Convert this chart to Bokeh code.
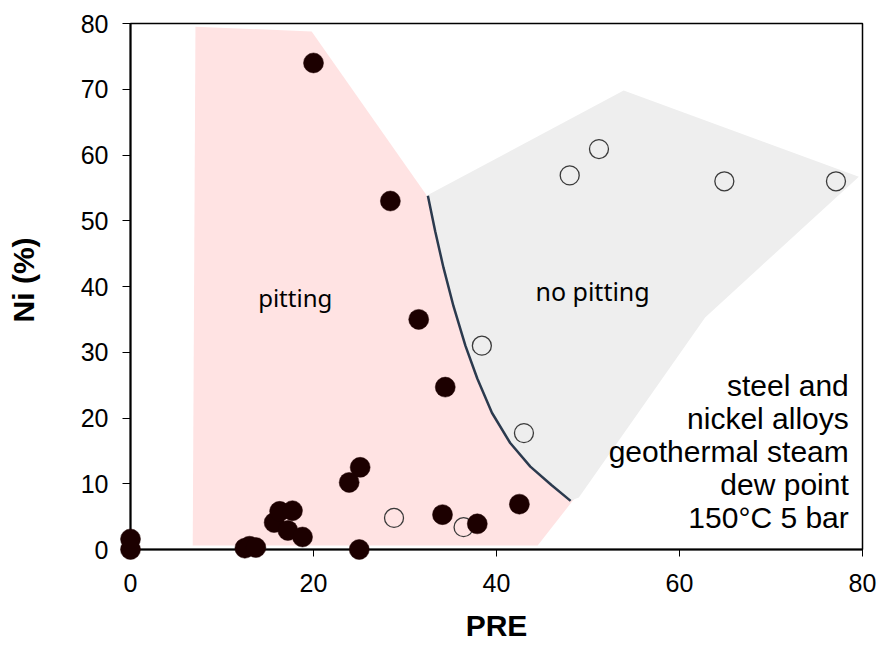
import math
from bokeh.plotting import figure
from bokeh.models import Range1d, FixedTicker
from bokeh.core.properties import value
from bokeh.embed import file_html
from bokeh.resources import INLINE

# ---- data ----
pitting_pre = [0, 0, 12.5, 13.0, 13.7, 15.7, 16.3, 17.2, 17.7, 18.8, 20.0, 23.9, 25.1, 25.0, 28.4, 31.5, 34.4, 34.1, 37.9, 42.5]
pitting_ni = [0.0, 1.6, 0.2, 0.5, 0.3, 4.1, 5.8, 2.9, 5.9, 1.9, 74.0, 10.2, 12.5, 0.0, 53.0, 35.0, 24.7, 5.3, 3.9, 6.9]
nopit_pre = [28.8, 36.4, 38.4, 43.0, 48.0, 51.2, 64.9, 77.1]
nopit_ni = [4.8, 3.4, 31.0, 17.7, 56.9, 60.9, 56.0, 56.0]

# boundary curve between regions
curve_pre = [32.5, 33.3, 34.2, 35.3, 36.6, 37.9, 39.5, 41.5, 43.7, 46.0, 48.1]
curve_ni = [53.8, 48.4, 42.9, 37.0, 31.0, 26.0, 20.8, 16.2, 12.6, 9.8, 7.4]

# shaded regions
pink_pre = [7.1, 19.8, 32.3, 48.6, 44.5, 6.8]
pink_ni = [79.5, 78.8, 54.0, 7.9, 0.6, 0.6]
gray_outer_pre = [32.6, 53.9, 79.6, 62.8, 49.0]
gray_outer_ni = [54.0, 69.8, 56.7, 35.3, 7.9]

x_ticks = [0, 20, 40, 60, 80]
y_ticks = [0, 10, 20, 30, 40, 50, 60, 70, 80]

x_title = "PRE"
y_title = "Ni (%)"
note_lines = ["steel and", "nickel alloys", "geothermal steam", "dew point", "150°C 5 bar"]

# ---- figure ----
p = figure(width=877, height=664, output_backend="svg", toolbar_location=None,
           x_range=Range1d(0, 80), y_range=Range1d(0, 80),
           min_border_left=130, min_border_right=15, min_border_top=23, min_border_bottom=115)
p.grid.visible = False
p.outline_line_color = "black"
p.outline_line_width = 1.5
p.background_fill_color = "white"
p.border_fill_color = "white"

gray_pre = gray_outer_pre + curve_pre[::-1]
gray_ni = gray_outer_ni + curve_ni[::-1]
p.patch(pink_pre, pink_ni, fill_color="#ffe3e3", line_color=None)
p.patch(gray_pre, gray_ni, fill_color="#eeeeee", line_color=None)
p.line(curve_pre, curve_ni, line_color="#2b3a4e", line_width=2.5)

p.scatter(nopit_pre, nopit_ni, size=19, marker="circle", fill_alpha=0,
          line_color="#3a3a3a", line_width=1.3, level="overlay")
p.scatter(pitting_pre, pitting_ni, size=20, marker="circle", fill_color="#1c0000",
          line_color="#1c0000", line_width=0.5, level="overlay")

p.text(x=[18.0], y=[38.4], text=["pitting"], text_align="center", text_baseline="alphabetic",
       text_font=value("Noto Sans"), text_font_size="24px", text_color="black")
p.text(x=[50.5], y=[39.3], text=["no pitting"], text_align="center", text_baseline="alphabetic",
       text_font=value("Noto Sans"), text_font_size="25px", text_color="black")

for i, line in enumerate(note_lines):
    p.text(x=[78.5], y=[25.0], text=[line], y_offset=i * 33, text_align="right",
           text_baseline="alphabetic", text_font=value("Liberation Sans"),
           text_font_size="30px", text_color="black")

for ax, ticks, tick_out in ((p.xaxis, x_ticks, 7), (p.yaxis, y_ticks, 8)):
    ax.ticker = FixedTicker(ticks=ticks)
    ax.minor_tick_line_color = None
    ax.major_tick_in = 0
    ax.major_tick_out = tick_out
    ax.major_tick_line_width = 1
    ax.major_tick_line_color = "black"
    ax.axis_line_width = 2
    ax.axis_line_color = "black"
    ax.major_label_text_font = "Liberation Sans"
    ax.major_label_text_font_size = "25px"
    ax.major_label_text_color = "black"
p.xaxis.major_label_standoff = 17
p.yaxis.major_label_standoff = 14

# axis titles placed as text below / left of the frame
p.text(x=[40], y=[0], text=[x_title], y_offset=76, text_align="center",
       text_baseline="alphabetic", text_font=value("Liberation Sans"),
       text_font_size="30px", text_font_style="bold", text_color="black", level="overlay")
p.text(x=[0], y=[41], text=[y_title], x_offset=-107, angle=math.pi / 2, text_align="center",
       text_baseline="alphabetic", text_font=value("Liberation Sans"),
       text_font_size="30px", text_font_style="bold", text_color="black", level="overlay")

open("out.html", "w").write(file_html(p, INLINE))
